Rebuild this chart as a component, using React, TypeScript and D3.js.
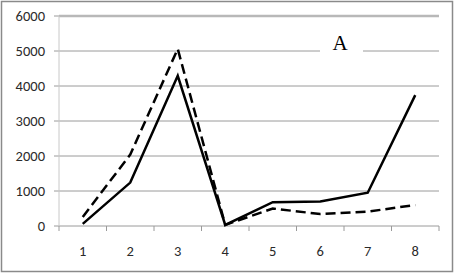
import React from "react";
import * as d3 from "d3";

const categories = ["1", "2", "3", "4", "5", "6", "7", "8"];
const solidSeries = [60, 1240, 4290, 30, 680, 700, 950, 3740];
const dashedSeries = [260, 2040, 5060, 30, 500, 340, 410, 600];
const yTicks = [0, 1000, 2000, 3000, 4000, 5000, 6000];
const title = "A";

export default function App() {
  const W = 454, H = 273;
  const left = 59, right = 439, top = 16, bottom = 226;
  const x = d3.scaleBand<string>().domain(categories).range([left, right]);
  const y = d3.scaleLinear().domain([0, 6000]).range([bottom, top]);
  const cx = (c: string) => (x(c) as number) + x.bandwidth() / 2;
  const line = d3.line<number>().x((_, i) => cx(categories[i])).y((d) => y(d));
  const font = "Carlito, 'Open Sans', 'Liberation Sans', 'DejaVu Sans', sans-serif";
  const boundaries = d3.range(categories.length + 1).map((i) => left + i * x.bandwidth());
  return (
    <svg width={W} height={H} style={{ position: "absolute", left: 0, top: 0, background: "#fff" }}>
      <rect x={1.5} y={1.5} width={W - 3} height={H - 3} fill="#fff" stroke="#8a8a8a" strokeWidth={1.5} />
      {yTicks.map((t) => (
        <g key={t}>
          <line x1={left} x2={right} y1={y(t)} y2={y(t)} stroke={t === 6000 ? "#b8b8b8" : "#9a9a9a"} strokeWidth={t === 6000 ? 2.5 : 1} />
          <line x1={left - 5} x2={left} y1={y(t)} y2={y(t)} stroke="#9a9a9a" />
          <text x={45} y={y(t)} dy="0.35em" textAnchor="end" fontFamily={font} fontSize={14.5} fill="#2a2a2a">{t}</text>
        </g>
      ))}
      <line x1={left} x2={left} y1={top} y2={bottom} stroke="#c8c8c8" />
      {boundaries.map((b, i) => (
        <line key={i} x1={b} x2={b} y1={bottom} y2={bottom + 5} stroke="#9a9a9a" />
      ))}
      {categories.map((c) => (
        <text key={c} x={cx(c)} y={251} dy="0.35em" textAnchor="middle" fontFamily={font} fontSize={14.5} fill="#2a2a2a">{c}</text>
      ))}
      <rect x={320} y={32} width={43} height={24} fill="#fff" />
      <text x={340} y={50} textAnchor="middle" fontFamily="'Liberation Serif', 'DejaVu Serif', serif" fontSize={21} fill="#000">{title}</text>
      <path d={line(dashedSeries) || ""} fill="none" stroke="#000" strokeWidth={2.5} strokeDasharray="10,5" />
      <path d={line(solidSeries) || ""} fill="none" stroke="#000" strokeWidth={2.5} />
    </svg>
  );
}
